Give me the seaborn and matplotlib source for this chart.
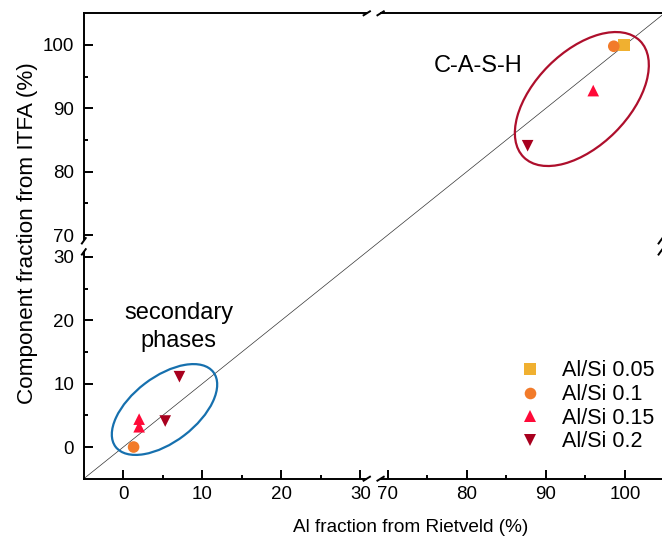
import numpy as np
import pandas as pd
import matplotlib
matplotlib.use("Agg")
import matplotlib.pyplot as plt
import seaborn as sns
from matplotlib.patches import Ellipse
from matplotlib.lines import Line2D
from matplotlib.transforms import ScaledTranslation

# ---------------- data ----------------
rietveld = [99.9, 98.6, 96.0, 87.7, 1.3, 2.0, 2.0, 5.3, 7.1]      # Al fraction from Rietveld (%)
itfa = [100.0, 99.8, 92.8, 84.1, 0.0, 4.4, 3.2, 4.1, 11.1]         # component fraction from ITFA (%)
series = ["Al/Si 0.05", "Al/Si 0.1", "Al/Si 0.15", "Al/Si 0.2",
          "Al/Si 0.1", "Al/Si 0.15", "Al/Si 0.15", "Al/Si 0.2", "Al/Si 0.2"]
series_order = ["Al/Si 0.05", "Al/Si 0.1", "Al/Si 0.15", "Al/Si 0.2"]
series_colors = ["#F0B030", "#F27B2A", "#FF0A38", "#A8001E"]
series_markers = ["s", "o", "^", "v"]
major_ticks = [0, 10, 20, 30, 70, 80, 90, 100]
minor_ticks = [5, 15, 25, 75, 85, 95]
diag = [-5, 30.8, 69.1, 105]

# axis break (compressed region)
BRK_A, BRK_B, BRK_GAP = 30.8, 69.1, 1.75

def fwd(v):
    v = np.asarray(v, dtype=float)
    return np.where(v <= BRK_A, v,
                    np.where(v >= BRK_B, v - (BRK_B - BRK_A) + BRK_GAP,
                             BRK_A + (v - BRK_A) * BRK_GAP / (BRK_B - BRK_A)))

def inv(u):
    u = np.asarray(u, dtype=float)
    return np.where(u <= BRK_A, u,
                    np.where(u >= BRK_A + BRK_GAP, u + (BRK_B - BRK_A) - BRK_GAP,
                             BRK_A + (u - BRK_A) * (BRK_B - BRK_A) / BRK_GAP))

df = pd.DataFrame({"x": rietveld, "y": itfa, "series": series})

sns.set_style("ticks")
plt.rcParams["font.family"] = ["Liberation Sans", "DejaVu Sans"]
plt.rcParams["text.color"] = "black"
plt.rcParams["axes.labelcolor"] = "black"
plt.rcParams["xtick.color"] = "black"
plt.rcParams["ytick.color"] = "black"

W, H = 662, 547
fig = plt.figure(figsize=(W / 100, H / 100), dpi=100)
ax = fig.add_axes([83.8 / W, (H - 478.7) / H, 578.2 / W, 465.4 / H])

ax.set_xscale("function", functions=(fwd, inv))
ax.set_yscale("function", functions=(fwd, inv))

# diagonal
ax.plot(diag, diag, color="#333333", lw=0.5, zorder=1)

sns.scatterplot(data=df, x="x", y="y", hue="series", style="series",
                hue_order=series_order, style_order=series_order,
                palette=dict(zip(series_order, series_colors)),
                markers=dict(zip(series_order, series_markers)),
                s=70, linewidth=0, ax=ax, zorder=3)

ax.set_xlim(-5, 104.7)
ax.set_ylim(-5, 105)
ax.set_xticks(major_ticks)
ax.set_xticks(minor_ticks, minor=True)
ax.set_yticks(major_ticks)
ax.set_yticks(minor_ticks, minor=True)
ax.set_xticklabels([str(t) for t in major_ticks])
ax.set_yticklabels([str(t) for t in major_ticks])
ax.set_xlabel("")
ax.set_ylabel("")

for s in ["left", "bottom", "top"]:
    ax.spines[s].set_linewidth(1.4)
    ax.spines[s].set_color("black")
ax.spines["right"].set_visible(False)
ax.tick_params(which="both", direction="in", width=1.4, color="black",
               top=False, right=False, labelsize=13.5, labelcolor="black")
ax.tick_params(which="major", length=6.5)
ax.tick_params(which="minor", length=3.2)
ax.tick_params(axis="x", pad=5)
ax.tick_params(axis="y", pad=7)

# ellipses (drawn in inches around a data-anchored centre)
def add_ellipse(cx, cy, w_px, h_px, angle, color):
    e = Ellipse((0, 0), w_px / 100, h_px / 100, angle=angle, fill=False,
                edgecolor=color, lw=1.6,
                transform=fig.dpi_scale_trans + ScaledTranslation(cx, cy, ax.transData),
                zorder=2)
    ax.add_artist(e)

add_ellipse(94.56, 91.47, 164.5, 94, 45, "#AE0F2C")
add_ellipse(5.21, 5.92, 123, 65, 37.4, "#1670AE")

ax.text(81.5, 96.7, "C-A-S-H", ha="center", va="center", fontsize=17)
ax.text(7.0, 18.9, "secondary\nphases", ha="center", va="center", fontsize=17,
        linespacing=1.33)

# legend
sns.move_legend(ax, "upper left", bbox_to_anchor=((517 - 83.8) / 578.2, (478.7 - 360.5) / 465.4),
                frameon=False, title=None, fontsize=15.5, borderpad=0, borderaxespad=0,
                handlelength=1.2, handletextpad=0.88, labelspacing=0.12)

# axis labels
fig.text(411 / W, 1 - 528 / H, "Al fraction from Rietveld (%)", ha="center", va="center", fontsize=13.7)
fig.text(28 / W, 1 - 233 / H, "Component fraction from ITFA (%)", ha="center", va="center",
         fontsize=16.2, rotation=90)

# break marks
fig.canvas.draw()
def to_fig(px, py):
    return px / fig.bbox.width, py / fig.bbox.height

def seg(x0, y0, x1, y1, color="black", lw=1.4):
    (fx0, fy0), (fx1, fy1) = to_fig(x0, y0), to_fig(x1, y1)
    fig.add_artist(Line2D([fx0, fx1], [fy0, fy1], color=color, lw=lw,
                          transform=fig.transFigure, solid_capstyle="butt"))

xa = ax.transData.transform((BRK_A, 0))[0]
xb = ax.transData.transform((BRK_B, 0))[0]
ya = ax.transData.transform((0, BRK_A))[1]
yb = ax.transData.transform((0, BRK_B))[1]
bb = ax.get_window_extent()
for Y in (bb.y0, bb.y1):
    seg(xa + 0.5, Y, xb - 0.5, Y, color="white", lw=3)
    for X in (xa, xb):
        seg(X - 4, Y - 2.5, X + 4, Y + 2.5)
for X in (bb.x0, bb.x1 - 1.5):
    seg(X, ya + 0.5, X, yb - 0.5, color="white", lw=3)
    for Yv in (ya, yb):
        seg(X - 2.5, Yv - 3.5, X + 2.5, Yv + 3.5)

fig.savefig("out.png", dpi=100)
